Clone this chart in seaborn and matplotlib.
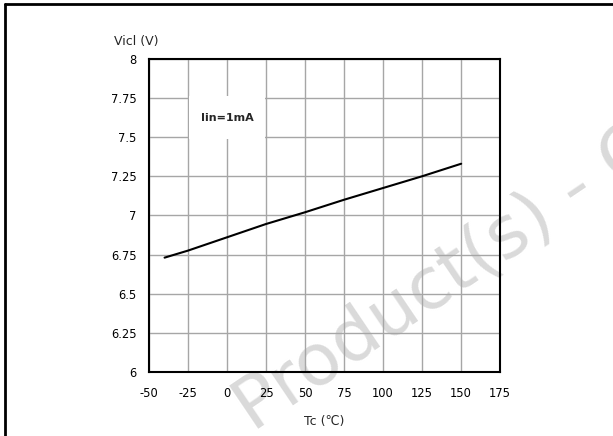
import matplotlib
matplotlib.use("Agg")
import matplotlib.pyplot as plt
from matplotlib.lines import Line2D
from matplotlib.patches import Rectangle
import pandas as pd
import seaborn as sns

# data
tc = [-40, -25, 0, 25, 50, 75, 100, 125, 150]
vicl = [6.73, 6.775, 6.86, 6.945, 7.02, 7.10, 7.175, 7.25, 7.33]

x_ticks = [-50, -25, 0, 25, 50, 75, 100, 125, 150, 175]
y_ticks = [6, 6.25, 6.5, 6.75, 7, 7.25, 7.5, 7.75, 8]
y_tick_labels = ["6", "6.25", "6.5", "6.75", "7", "7.25", "7.5", "7.75", "8"]

df = pd.DataFrame({"Tc": tc, "Vicl": vicl})

sns.set_style("white")
plt.rcParams["font.family"] = ["DejaVu Sans"]

fig = plt.figure(figsize=(6.13, 4.36), dpi=100)
ax = fig.add_axes([0.243, 0.147, 0.573, 0.718])
ax.patch.set_alpha(0)

# watermark behind the grid
fig.text(0.726, 0.36, "Product(s) - C", fontsize=52, color="#dadada",
         rotation=34, ha="center", va="center", zorder=-1)

sns.lineplot(data=df, x="Tc", y="Vicl", ax=ax, color="black", linewidth=1.5, zorder=3)

ax.set_xlim(-50, 175)
ax.set_ylim(6, 8)
ax.set_xticks(x_ticks)
ax.set_xticklabels([str(t) for t in x_ticks])
ax.set_yticks(y_ticks)
ax.set_yticklabels(y_tick_labels)
ax.grid(True, color="#a6a6a6", linewidth=1.0)
ax.set_axisbelow(True)
ax.tick_params(axis="both", length=0, labelsize=8.3, colors="black")
ax.tick_params(axis="y", pad=9)
ax.tick_params(axis="x", pad=11)
for s in ax.spines.values():
    s.set_visible(True)
    s.set_color("black")
    s.set_linewidth(1.5)

ax.set_xlabel("Tc (\u2103)", fontsize=9)
ax.xaxis.set_label_coords(0.5, -0.137)
ax.set_ylabel("Vicl (V)", fontsize=9, rotation=0, ha="center", va="center")
ax.yaxis.set_label_coords(-0.037, 1.057)

# white box with the condition label
ax.add_patch(Rectangle((-24.4, 7.49), 48.8, 0.27, facecolor="white",
                       edgecolor="none", zorder=2))
ax.text(0, 7.62, "Iin=1mA", fontsize=8, fontweight="bold",
        ha="center", va="center", zorder=4)

# partial page frame (top and left)
fig.add_artist(Line2D([0.008, 1.0], [0.991, 0.991], color="black", linewidth=2))
fig.add_artist(Line2D([0.008, 0.008], [0.0, 0.991], color="black", linewidth=2))

fig.savefig("out.png", dpi=100)
